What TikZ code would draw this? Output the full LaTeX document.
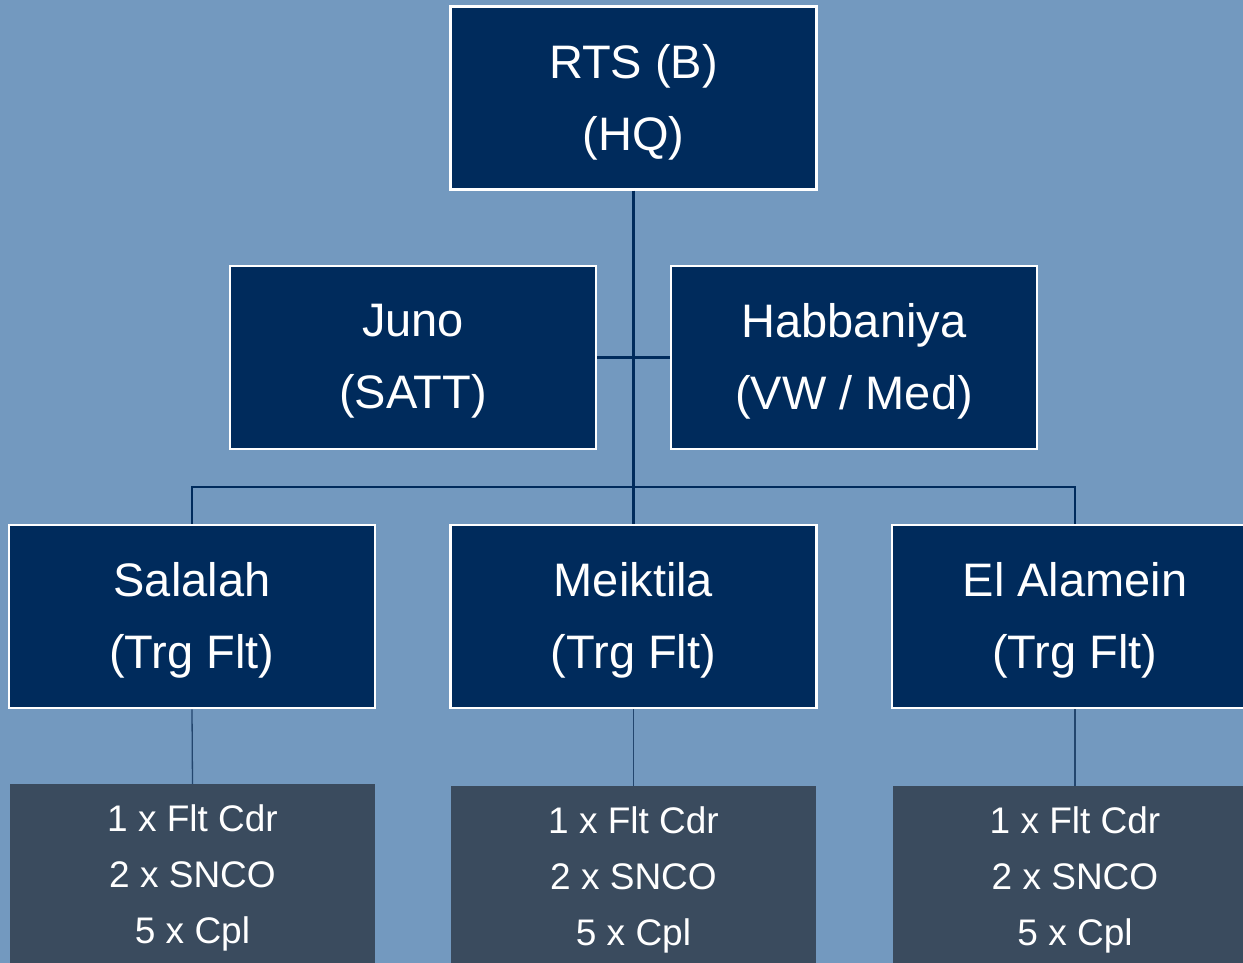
\documentclass[tikz,border=0pt]{standalone}
\usepackage{fontspec}
\setmainfont{Liberation Sans}
\definecolor{bgblue}{RGB}{115,153,191}
\definecolor{navy}{RGB}{0,43,92}
\definecolor{slate}{RGB}{58,75,94}
\definecolor{linkblue}{RGB}{35,70,110}
\tikzset{
  unitbox/.style={draw=white, line width=2.5pt, fill=navy,
    minimum width=366pt, minimum height=183pt, inner sep=0pt},
  unittext/.style={text=white, align=center, inner sep=0pt,
    font=\fontsize{47}{72}\selectfont},
  staffbox/.style={draw=none, fill=slate,
    minimum width=365pt, minimum height=180pt, inner sep=0pt, anchor=north},
  stafftext/.style={text=white, align=center, inner sep=0pt,
    font=\fontsize{37}{56}\selectfont},
  mainlink/.style={draw=navy, line width=2.5pt},
  thinlink/.style={draw=linkblue, line width=1.3pt}
}
\begin{document}
\begin{tikzpicture}[x=1pt,y=-1pt]
\useasboundingbox (0,0) rectangle (1243,963);
\clip (0,0) rectangle (1243,963);
\fill[bgblue] (0,0) rectangle (1243,963);

\node[unitbox] (rts) at (633.5,98) {};
\node[unitbox] (juno) at (413,357.5) {};
\node[unitbox] (hab) at (854,357.5) {};
\node[unitbox] (sal) at (192,616.5) {};
\node[unitbox] (meik) at (633.5,616.5) {};
\node[unitbox] (ela) at (1075,616.5) {};

\node[unittext] (rtst) at ([yshift=-4pt]rts.center) {RTS (B)\\(HQ)};
\node[unittext] (junot) at ([yshift=-4pt]juno.center) {Juno\\(SATT)};
\node[unittext] (habt) at ([yshift=-4pt]hab.center) {Habbaniya\\(VW / Med)};
\node[unittext] (salt) at ([yshift=-4pt]sal.center) {Salalah\\(Trg Flt)};
\node[unittext] (meikt) at ([yshift=-4pt]meik.center) {Meiktila\\(Trg Flt)};
\node[unittext] (elat) at ([yshift=-4pt]ela.center) {El Alamein\\(Trg Flt)};

\node[staffbox] (salg) at (192.5,784) {};
\node[staffbox] (meikg) at (633.5,786) {};
\node[staffbox] (elag) at (1075,786) {};

\node[stafftext] (salgt) at ([yshift=-4pt]salg.center) {1 x Flt Cdr\\2 x SNCO\\5 x Cpl};
\node[stafftext] (meikgt) at ([yshift=-4pt]meikg.center) {1 x Flt Cdr\\2 x SNCO\\5 x Cpl};
\node[stafftext] (elagt) at ([yshift=-4pt]elag.center) {1 x Flt Cdr\\2 x SNCO\\5 x Cpl};

\coordinate (bus) at (633.5,487);
\path[mainlink] (rts.south) -- (meik.north);
\path[mainlink] (juno.east) -- (hab.west);
\path[mainlink] (sal.north) |- (bus) -| (ela.north);
\path[thinlink] (sal.south) -- (salg.north);
\path[thinlink] (meik.south) -- (meikg.north);
\path[thinlink] (ela.south) -- (elag.north);
\end{tikzpicture}
\end{document}
